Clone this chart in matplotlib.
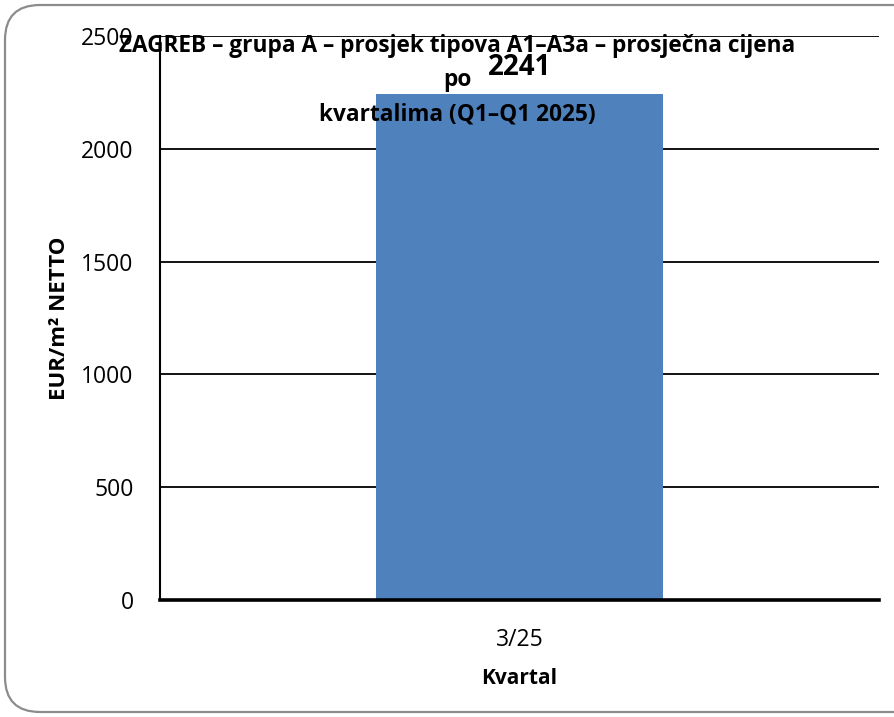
import matplotlib.pyplot as plt
from matplotlib.patches import FancyBboxPatch

# podaci
kvartali = ['3/25']
cijene = [2241]
y_ticks = [0, 500, 1000, 1500, 2000, 2500]

plt.rcParams['font.family'] = ['Open Sans', 'DejaVu Sans']

fig = plt.figure(figsize=(8.95, 7.17), dpi=100)

# okvir grafikona sa zaobljenim rubovima
okvir = FancyBboxPatch((0.05, 0.05), 9.3, 7.07,
                       boxstyle='round,pad=0,rounding_size=0.35',
                       transform=fig.dpi_scale_trans,
                       facecolor='none', edgecolor='#8c8c8c', lw=1.6,
                       zorder=-1)
fig.patches.append(okvir)

ax = fig.add_axes([0.1788, 0.1632, 0.8034, 0.7866])
ax.set_facecolor('none')

x = range(len(kvartali))
bars = ax.bar(x, cijene, width=0.4, color='#4f81bd', zorder=2)
ax.set_xlim(-0.5, 0.5)
ax.set_ylim(0, 2500)
ax.set_yticks(y_ticks)
ax.set_xticks(list(x))
ax.set_xticklabels(kvartali)

ax.grid(axis='y', color='black', lw=1.3, zorder=1)
ax.tick_params(axis='both', length=0, labelsize=16.5)
ax.tick_params(axis='y', pad=19)
ax.tick_params(axis='x', pad=20)

for s in ['top', 'right']:
    ax.spines[s].set_visible(False)
ax.spines['left'].set_linewidth(1.5)
ax.spines['bottom'].set_linewidth(2.6)
ax.spines['bottom'].set_zorder(3)

# vrijednost iznad stupca
for b, v in zip(bars, cijene):
    ax.annotate(str(v), (b.get_x() + b.get_width() / 2, v),
                xytext=(0, 9), textcoords='offset points',
                ha='center', va='bottom', fontsize=20, fontweight='bold')

ax.set_ylabel('EUR/m² NETTO', fontsize=16, fontweight='bold', labelpad=8)
ax.set_xlabel('Kvartal', fontsize=15, fontweight='bold', labelpad=12)

fig.text(0.511, 0.953,
         'ZAGREB – grupa A – prosjek tipova A1–A3a – prosječna cijena\npo\nkvartalima (Q1–Q1 2025)',
         ha='center', va='top', fontsize=16.3, fontweight='bold',
         linespacing=1.58)

plt.savefig('out.png', dpi=100)
